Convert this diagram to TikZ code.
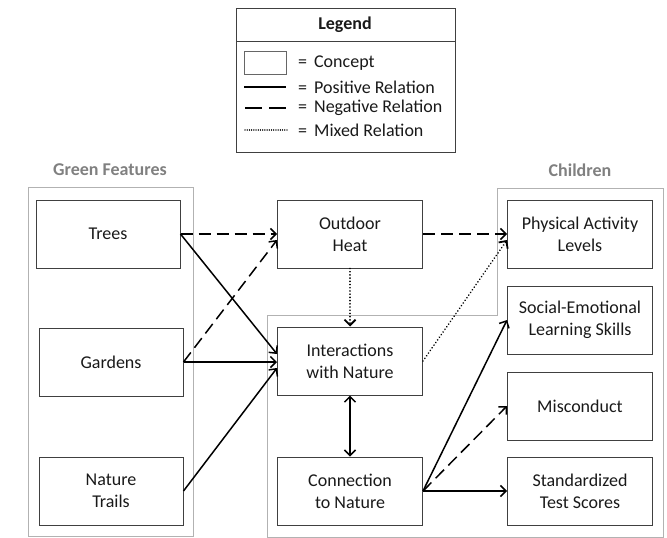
\documentclass[tikz,border=0pt]{standalone}
\usepackage{fontspec}
\setmainfont{Carlito}
\usetikzlibrary{arrows.meta}
\begin{document}
\begin{tikzpicture}[x=1pt,y=-1pt,
  font=\fontsize{18}{22}\selectfont,
  concept/.style={draw=black!75, line width=1pt, minimum width=145pt, minimum height=68pt, inner sep=2pt, align=center, text=black!90},
  grp/.style={draw=black!30, line width=1pt},
  grptitle/.style={text=black!50, font=\fontsize{18}{22}\selectfont\bfseries},
  relline/.style={line width=1.5pt, -{Straight Barb[length=5.5pt,width=11pt]}},
  posrel/.style={relline},
  negrel/.style={relline, dash pattern=on 12pt off 6pt},
  mixrel/.style={relline, line width=1.8pt, line cap=round, dash pattern=on 0.01pt off 3.2pt},
  legtext/.style={anchor=west, inner sep=0pt, text=black!90}
]
\useasboundingbox (0,0) rectangle (667,538);

% Legend
\draw[draw=black!75, line width=1pt] (236,8) rectangle (455,152);
\draw[draw=black!75, line width=1pt] (236,41) -- (455,41);
\node[font=\fontsize{18}{22}\selectfont\bfseries, text=black!90] (legtitle) at (345,25) {Legend};
\draw[draw=black!60, line width=0.9pt] (244,51) rectangle (286,74);
\draw[line width=1.6pt] (244,87) -- (286,87);
\draw[line width=1.6pt, dash pattern=on 17pt off 7pt] (245,108) -- (288,108);
\draw[line width=1.3pt, line cap=round, dash pattern=on 0.01pt off 2.2pt] (245,130) -- (287,130);
\node[legtext] (l1) at (298,63) {=\hspace{7pt}Concept};
\node[legtext] (l2) at (298,87) {=\hspace{7pt}Positive Relation};
\node[legtext] (l3) at (298,108) {=\hspace{7pt}Negative Relation};
\node[legtext] (l4) at (298,130) {=\hspace{7pt}Mixed Relation};

% Groups
\draw[grp] (28,187) rectangle (193,536);
\draw[grp] (497,188) -- (663,188) -- (663,537) -- (267,537) -- (267,315) -- (497,315) -- cycle;
\node[grptitle] (gf) at (110,170) {Green Features};
\node[grptitle] (ch) at (580,170) {Children};

% Concepts
\node[concept, minimum width=144pt] (trees) at (108,234) {Trees};
\node[concept, minimum width=144pt] (gardens) at (111,362) {Gardens};
\node[concept, minimum width=144pt] (trails) at (111,491) {Nature\\Trails};
\node[concept] (heat) at (350,234) {Outdoor\\Heat};
\node[concept] (inter) at (350,361) {Interactions\\with Nature};
\node[concept] (conn) at (350,491) {Connection\\to Nature};
\node[concept] (phys) at (580,234) {Physical Activity\\Levels};
\node[concept] (social) at (580,320) {Social-Emotional\\Learning Skills};
\node[concept] (misc) at (580,406) {Misconduct};
\node[concept] (std) at (580,491) {Standardized\\Test Scores};

% Relations
\draw[negrel] (trees.east) -- (heat.west);
\draw[negrel] (gardens.east) -- ([yshift=-6pt]heat.west);
\draw[posrel] (trees.east) -- ([yshift=7pt]inter.west);
\draw[posrel] (gardens.east) -- (gardens.east -| inter.west);
\draw[posrel] (trails.east) -- ([yshift=-7pt]inter.west);
\draw[negrel] (heat.east) -- (phys.west);
\draw[mixrel] (heat.south) -- (inter.north);
\draw[mixrel] (inter.east) -- ([yshift=-6pt]phys.west);
\draw[posrel, {Straight Barb[length=5.5pt,width=11pt]}-{Straight Barb[length=5.5pt,width=11pt]}] (inter.south) -- (conn.north);
\draw[posrel] (conn.east) -- (social.west);
\draw[negrel] (conn.east) -- (misc.west);
\draw[posrel] (conn.east) -- (std.west);
\end{tikzpicture}
\end{document}
